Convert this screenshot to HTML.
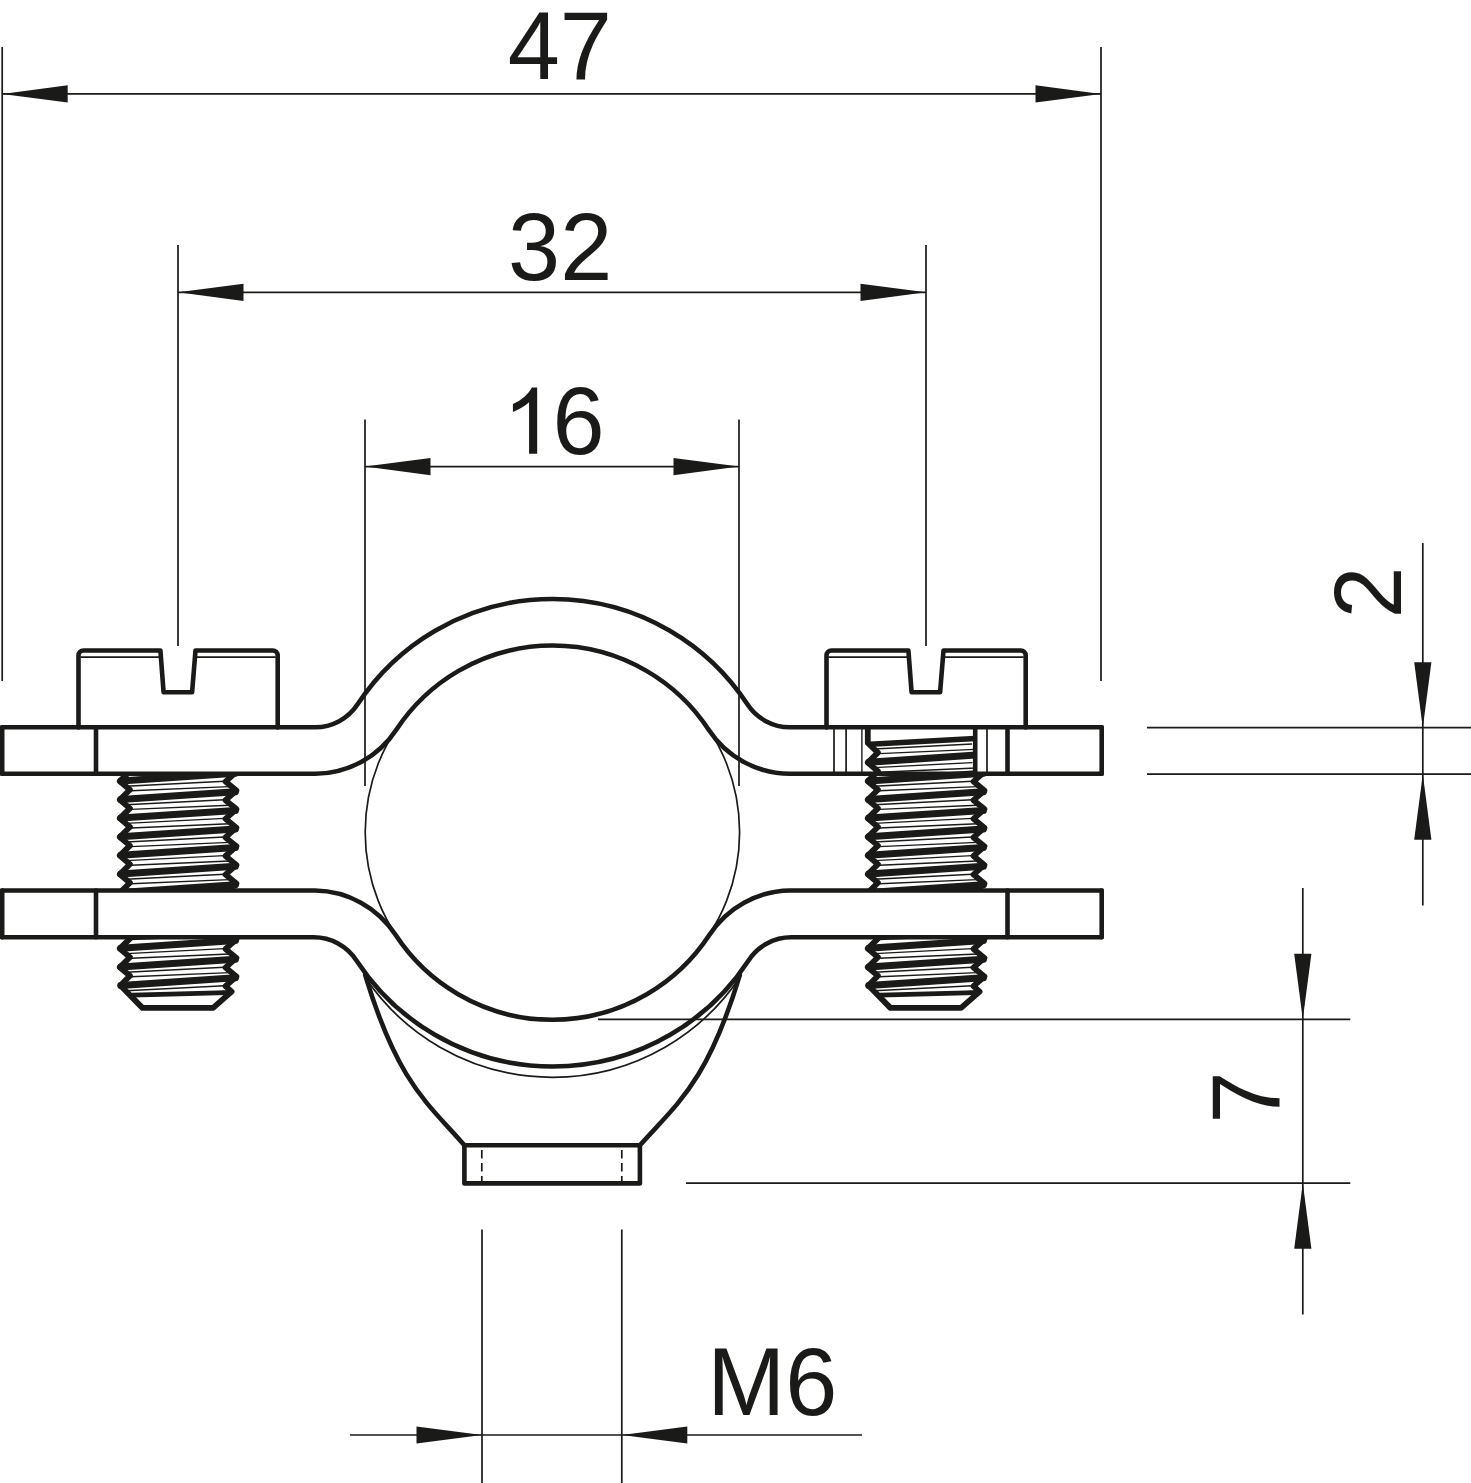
<!DOCTYPE html>
<html><head><meta charset="utf-8"><title>Drawing</title>
<style>
html,body{margin:0;padding:0;background:#fff;}
body{width:1471px;height:1483px;overflow:hidden;}
svg{display:block;}
text{font-family:"Liberation Sans",sans-serif;fill:#1a1a18;}
.h{fill:none;stroke:#1a1a18;stroke-width:4.6;stroke-linejoin:round;stroke-linecap:round;}
.hw{fill:#fff;stroke:#1a1a18;stroke-width:4.6;stroke-linejoin:round;stroke-linecap:round;}
.t{fill:none;stroke:#1a1a18;stroke-width:1.7;}
.t2{fill:none;stroke:#1a1a18;stroke-width:1.4;}
.a{fill:#1a1a18;stroke:none;}
</style></head><body>
<svg width="1471" height="1483" viewBox="0 0 1471 1483">
<rect width="1471" height="1483" fill="#fff"/>

<g class="t">
<path d="M2.2,47V681 M1101,47V681 M2.2,93.9H1101"/>
<path d="M178,245V646 M926,245V646 M178,292.3H926"/>
<path d="M365,419.5V786 M739,419.5V786 M365,466.6H739"/>
<path d="M1422.8,543V905.5 M1147,727.7H1471 M1147,774.2H1471"/>
<path d="M1302.8,888V1314.5 M598,1019.3H1350.3 M686,1183.2H1350.3"/>
<path d="M482,1229.5V1483 M621.8,1229.5V1483 M350,1435H862"/>
</g>
<g class="a">
<polygon points="2.2,93.9 67.7,102.5 67.7,85.3"/>
<polygon points="1101.0,93.9 1035.5,85.3 1035.5,102.5"/>
<polygon points="178.0,292.3 243.5,300.9 243.5,283.7"/>
<polygon points="926.0,292.3 860.5,283.7 860.5,300.9"/>
<polygon points="365.0,466.6 430.5,475.2 430.5,458.0"/>
<polygon points="739.0,466.6 673.5,458.0 673.5,475.2"/>
<polygon points="1422.8,727.7 1431.4,662.2 1414.2,662.2"/>
<polygon points="1422.8,774.2 1414.2,839.7 1431.4,839.7"/>
<polygon points="1302.8,1019.3 1311.4,953.8 1294.2,953.8"/>
<polygon points="1302.8,1183.2 1294.2,1248.7 1311.4,1248.7"/>
<polygon points="482.0,1435.0 416.5,1426.4 416.5,1443.6"/>
<polygon points="621.8,1435.0 687.3,1443.6 687.3,1426.4"/>
</g>
<text transform="translate(507.65,79) scale(1.018,1.04)" font-size="92">47</text>
<text transform="translate(508.1,279.6) scale(1.018,1.04)" font-size="92">32</text>
<text transform="translate(552.6,453.7) scale(1.018,1.04)" font-size="92">6</text>
<path fill="#1a1a18" transform="translate(502.9,453.7) scale(0.044922,-0.044922)" d="M763,0H583V1147Q518,1085 412.5,1023Q307,961 223,930V1104Q374,1175 487,1276Q600,1377 647,1472H763Z"/>
<text transform="translate(707.3,1415) scale(1.018,1.04)" font-size="92">M6</text>
<text transform="translate(1400.8,618.4) rotate(-90) scale(1.018,1.04)" font-size="92">2</text>
<text transform="translate(1279,1123.6) rotate(-90) scale(1.018,1.04)" font-size="92">7</text>
<circle class="t" cx="552.4" cy="832.2" r="187.2"/>
<clipPath id="c1"><rect x="108.1" y="774" width="140" height="116"/></clipPath>
<g clip-path="url(#c1)">
<polygon points="119.8,762.6 129.9,771.2 119.8,781.2 129.9,789.8 119.8,799.8 129.9,808.4 119.8,818.4 129.9,827.0 119.8,837.0 129.9,845.6 119.8,855.6 129.9,864.2 119.8,874.2 129.9,882.8 119.8,892.8 129.9,901.4 236.4,902.1 225.5,893.2 236.4,883.5 225.5,874.6 236.4,864.9 225.5,856.0 236.4,846.3 225.5,837.4 236.4,827.7 225.5,818.8 236.4,809.1 225.5,800.2 236.4,790.5 225.5,781.6 236.4,771.9 225.5,763.0" fill="#fff" stroke="#1a1a18" stroke-width="5.8" stroke-linejoin="round"/>
<line x1="120.8" y1="762.3" x2="235.4" y2="754.6" stroke="#1a1a18" stroke-width="7" stroke-linecap="round"/>
<line class="t2" x1="126.1" y1="767.6" x2="224.5" y2="762.6"/>
<line class="t2" x1="130.9" y1="772.2" x2="229.6" y2="768.0"/>
<line x1="120.8" y1="780.9" x2="235.4" y2="773.2" stroke="#1a1a18" stroke-width="7" stroke-linecap="round"/>
<line class="t2" x1="126.1" y1="786.2" x2="224.5" y2="781.2"/>
<line class="t2" x1="130.9" y1="790.8" x2="229.6" y2="786.6"/>
<line x1="120.8" y1="799.5" x2="235.4" y2="791.8" stroke="#1a1a18" stroke-width="7" stroke-linecap="round"/>
<line class="t2" x1="126.1" y1="804.8" x2="224.5" y2="799.8"/>
<line class="t2" x1="130.9" y1="809.4" x2="229.6" y2="805.2"/>
<line x1="120.8" y1="818.1" x2="235.4" y2="810.4" stroke="#1a1a18" stroke-width="7" stroke-linecap="round"/>
<line class="t2" x1="126.1" y1="823.4" x2="224.5" y2="818.4"/>
<line class="t2" x1="130.9" y1="828.0" x2="229.6" y2="823.8"/>
<line x1="120.8" y1="836.7" x2="235.4" y2="829.0" stroke="#1a1a18" stroke-width="7" stroke-linecap="round"/>
<line class="t2" x1="126.1" y1="842.0" x2="224.5" y2="837.0"/>
<line class="t2" x1="130.9" y1="846.6" x2="229.6" y2="842.4"/>
<line x1="120.8" y1="855.3" x2="235.4" y2="847.6" stroke="#1a1a18" stroke-width="7" stroke-linecap="round"/>
<line class="t2" x1="126.1" y1="860.6" x2="224.5" y2="855.6"/>
<line class="t2" x1="130.9" y1="865.2" x2="229.6" y2="861.0"/>
<line x1="120.8" y1="873.9" x2="235.4" y2="866.2" stroke="#1a1a18" stroke-width="7" stroke-linecap="round"/>
<line class="t2" x1="126.1" y1="879.2" x2="224.5" y2="874.2"/>
<line class="t2" x1="130.9" y1="883.8" x2="229.6" y2="879.6"/>
<line x1="120.8" y1="892.5" x2="235.4" y2="884.8" stroke="#1a1a18" stroke-width="7" stroke-linecap="round"/>
<line class="t2" x1="126.1" y1="897.8" x2="224.5" y2="892.8"/>
<line class="t2" x1="130.9" y1="902.4" x2="229.6" y2="898.2"/>
</g>
<clipPath id="c2"><rect x="108.1" y="937" width="140" height="90"/></clipPath>
<g clip-path="url(#c2)">
<polygon points="119.8,930.0 129.9,938.6 119.8,948.6 129.9,957.2 119.8,967.2 129.9,975.8 120.5,985.5 142.4,1007.9 213.1,1007.9 231.6,991.6 225.5,986.2 236.4,976.5 225.5,967.6 236.4,957.9 225.5,949.0 236.4,939.3 225.5,930.4" fill="#fff" stroke="#1a1a18" stroke-width="5.8" stroke-linejoin="round"/>
<line x1="120.8" y1="929.7" x2="235.4" y2="922.0" stroke="#1a1a18" stroke-width="7" stroke-linecap="round"/>
<line class="t2" x1="126.1" y1="935.0" x2="224.5" y2="930.0"/>
<line class="t2" x1="130.9" y1="939.6" x2="229.6" y2="935.4"/>
<line x1="120.8" y1="948.3" x2="235.4" y2="940.6" stroke="#1a1a18" stroke-width="7" stroke-linecap="round"/>
<line class="t2" x1="126.1" y1="953.6" x2="224.5" y2="948.6"/>
<line class="t2" x1="130.9" y1="958.2" x2="229.6" y2="954.0"/>
<line x1="120.8" y1="966.9" x2="235.4" y2="959.2" stroke="#1a1a18" stroke-width="7" stroke-linecap="round"/>
<line class="t2" x1="126.1" y1="972.2" x2="224.5" y2="967.2"/>
<line class="t2" x1="130.9" y1="976.8" x2="229.6" y2="972.6"/>
<line x1="120.8" y1="985.5" x2="235.4" y2="977.8" stroke="#1a1a18" stroke-width="7" stroke-linecap="round"/>
<line class="t2" x1="126.1" y1="990.8" x2="224.5" y2="985.8"/>
<line class="t2" x1="130.9" y1="995.4" x2="229.6" y2="991.2"/>
<line x1="132.1" y1="995.2" x2="227.1" y2="992.6" stroke="#1a1a18" stroke-width="4.8" stroke-linecap="round"/>
</g>
<clipPath id="c4"><rect x="856.1" y="937" width="140" height="90"/></clipPath>
<g clip-path="url(#c4)">
<polygon points="867.8,930.0 877.9,938.6 867.8,948.6 877.9,957.2 867.8,967.2 877.9,975.8 868.5,985.5 890.4,1007.9 961.1,1007.9 979.6,991.6 973.5,986.2 984.4,976.5 973.5,967.6 984.4,957.9 973.5,949.0 984.4,939.3 973.5,930.4" fill="#fff" stroke="#1a1a18" stroke-width="5.8" stroke-linejoin="round"/>
<line x1="868.8" y1="929.7" x2="983.4" y2="922.0" stroke="#1a1a18" stroke-width="7" stroke-linecap="round"/>
<line class="t2" x1="874.1" y1="935.0" x2="972.5" y2="930.0"/>
<line class="t2" x1="878.9" y1="939.6" x2="977.6" y2="935.4"/>
<line x1="868.8" y1="948.3" x2="983.4" y2="940.6" stroke="#1a1a18" stroke-width="7" stroke-linecap="round"/>
<line class="t2" x1="874.1" y1="953.6" x2="972.5" y2="948.6"/>
<line class="t2" x1="878.9" y1="958.2" x2="977.6" y2="954.0"/>
<line x1="868.8" y1="966.9" x2="983.4" y2="959.2" stroke="#1a1a18" stroke-width="7" stroke-linecap="round"/>
<line class="t2" x1="874.1" y1="972.2" x2="972.5" y2="967.2"/>
<line class="t2" x1="878.9" y1="976.8" x2="977.6" y2="972.6"/>
<line x1="868.8" y1="985.5" x2="983.4" y2="977.8" stroke="#1a1a18" stroke-width="7" stroke-linecap="round"/>
<line class="t2" x1="874.1" y1="990.8" x2="972.5" y2="985.8"/>
<line class="t2" x1="878.9" y1="995.4" x2="977.6" y2="991.2"/>
<line x1="880.1" y1="995.2" x2="975.1" y2="992.6" stroke="#1a1a18" stroke-width="4.8" stroke-linecap="round"/>
</g>
<clipPath id="c3"><rect x="856.1" y="774" width="140" height="116"/></clipPath>
<g clip-path="url(#c3)">
<polygon points="867.8,762.6 877.9,771.2 867.8,781.2 877.9,789.8 867.8,799.8 877.9,808.4 867.8,818.4 877.9,827.0 867.8,837.0 877.9,845.6 867.8,855.6 877.9,864.2 867.8,874.2 877.9,882.8 867.8,892.8 877.9,901.4 984.4,902.1 973.5,893.2 984.4,883.5 973.5,874.6 984.4,864.9 973.5,856.0 984.4,846.3 973.5,837.4 984.4,827.7 973.5,818.8 984.4,809.1 973.5,800.2 984.4,790.5 973.5,781.6 984.4,771.9 973.5,763.0" fill="#fff" stroke="#1a1a18" stroke-width="5.8" stroke-linejoin="round"/>
<line x1="868.8" y1="762.3" x2="983.4" y2="754.6" stroke="#1a1a18" stroke-width="7" stroke-linecap="round"/>
<line class="t2" x1="874.1" y1="767.6" x2="972.5" y2="762.6"/>
<line class="t2" x1="878.9" y1="772.2" x2="977.6" y2="768.0"/>
<line x1="868.8" y1="780.9" x2="983.4" y2="773.2" stroke="#1a1a18" stroke-width="7" stroke-linecap="round"/>
<line class="t2" x1="874.1" y1="786.2" x2="972.5" y2="781.2"/>
<line class="t2" x1="878.9" y1="790.8" x2="977.6" y2="786.6"/>
<line x1="868.8" y1="799.5" x2="983.4" y2="791.8" stroke="#1a1a18" stroke-width="7" stroke-linecap="round"/>
<line class="t2" x1="874.1" y1="804.8" x2="972.5" y2="799.8"/>
<line class="t2" x1="878.9" y1="809.4" x2="977.6" y2="805.2"/>
<line x1="868.8" y1="818.1" x2="983.4" y2="810.4" stroke="#1a1a18" stroke-width="7" stroke-linecap="round"/>
<line class="t2" x1="874.1" y1="823.4" x2="972.5" y2="818.4"/>
<line class="t2" x1="878.9" y1="828.0" x2="977.6" y2="823.8"/>
<line x1="868.8" y1="836.7" x2="983.4" y2="829.0" stroke="#1a1a18" stroke-width="7" stroke-linecap="round"/>
<line class="t2" x1="874.1" y1="842.0" x2="972.5" y2="837.0"/>
<line class="t2" x1="878.9" y1="846.6" x2="977.6" y2="842.4"/>
<line x1="868.8" y1="855.3" x2="983.4" y2="847.6" stroke="#1a1a18" stroke-width="7" stroke-linecap="round"/>
<line class="t2" x1="874.1" y1="860.6" x2="972.5" y2="855.6"/>
<line class="t2" x1="878.9" y1="865.2" x2="977.6" y2="861.0"/>
<line x1="868.8" y1="873.9" x2="983.4" y2="866.2" stroke="#1a1a18" stroke-width="7" stroke-linecap="round"/>
<line class="t2" x1="874.1" y1="879.2" x2="972.5" y2="874.2"/>
<line class="t2" x1="878.9" y1="883.8" x2="977.6" y2="879.6"/>
<line x1="868.8" y1="892.5" x2="983.4" y2="884.8" stroke="#1a1a18" stroke-width="7" stroke-linecap="round"/>
<line class="t2" x1="874.1" y1="897.8" x2="972.5" y2="892.8"/>
<line class="t2" x1="878.9" y1="902.4" x2="977.6" y2="898.2"/>
</g>
<clipPath id="c5"><rect x="856.1" y="727.4" width="119" height="47"/></clipPath>
<g clip-path="url(#c5)">
<polyline points="867.8,727.4 867.8,743.0 877.9,752.6 867.8,762.6 877.9,771.2 867.8,781.2 877.9,789.8" fill="none" stroke="#1a1a18" stroke-width="5.8" stroke-linejoin="round"/>
<line x1="868.8" y1="762.3" x2="983.4" y2="754.6" stroke="#1a1a18" stroke-width="7" stroke-linecap="round"/>
<line class="t2" x1="874.1" y1="767.6" x2="972.5" y2="762.6"/>
<line class="t2" x1="878.9" y1="772.2" x2="977.6" y2="768.0"/>
<line x1="868.8" y1="780.9" x2="983.4" y2="773.2" stroke="#1a1a18" stroke-width="7" stroke-linecap="round"/>
<line class="t2" x1="874.1" y1="786.2" x2="972.5" y2="781.2"/>
<line class="t2" x1="878.9" y1="790.8" x2="977.6" y2="786.6"/>
<line x1="870.1" y1="744.3" x2="975.1" y2="738.5" stroke="#1a1a18" stroke-width="5.5" stroke-linecap="round"/>
<line class="t2" x1="874.1" y1="749.0" x2="972.1" y2="744.0"/>
<line class="t2" x1="879.1" y1="753.6" x2="975.1" y2="749.4"/>
</g>
<path class="t" d="M834,727.4V774 M846.1,727.4V774 M987,727.4V774"/>
<path class="t2" d="M861.9,727.4V774"/>
<path class="h" d="M975.2,727.4V776"/>
<path class="h" d="M2.2,727.3H315A51,51 0 0 0 357.6,704.3A233,233 0 0 1 747.4,704.3A51,51 0 0 0 790,727.3H1101.7"/><path class="h" d="M2.2,773.8H315A97.5,97.5 0 0 0 396.3,729.8A186.9,186.9 0 0 1 708.7,729.8A97.5,97.5 0 0 0 790,773.8H1101.7"/>
<path class="h" d="M2.2,890.5H315A97.6,97.6 0 0 1 395.7,935.1A187.5,187.5 0 0 0 709.3,935.1A97.6,97.6 0 0 1 790,890.5H1101.7"/><path class="h" d="M2.2,937.3H313.75A51,51 0 0 1 356.44,960.4A234.2,234.2 0 0 0 748.56,960.4A51,51 0 0 1 791.25,937.3H1101.7"/>
<path class="h" d="M2.2,727.3V773.8 M96,727.3V773.8 M1101.7,727.3V773.8 M1007.5,727.3V773.8"/>
<path class="h" d="M2.2,890.5V937.3 M96,890.5V937.3 M1101.7,890.5V937.3 M1007.5,890.5V937.3"/>
<path class="h" d="M78.5,727.4V655.5a5,5 0 0 1 5,-5H160.4L163.6,692.2H192.1L195.5,650.5H272.7a5,5 0 0 1 5,5V727.4"/><path class="t" d="M80.5,657.1H161.1 M195.1,657.1H275.7"/>
<path class="h" d="M826.5,727.4V655.5a5,5 0 0 1 5,-5H908.4L911.6,692.2H940.1L943.5,650.5H1020.7a5,5 0 0 1 5,5V727.4"/><path class="t" d="M828.5,657.1H909.1 M943.1,657.1H1023.7"/>
<path class="h" d="M365.2,975L365.5,976C398,1083.1 427.8,1103.3 464.4,1145.3"/>
<path class="h" d="M739.8,975L739.5,976C707,1083.1 677.2,1103.3 639.9,1145.3"/>
<path class="t" d="M365,977A225.4,225.4 0 0 0 740,977"/>
<rect class="h" x="464.4" y="1145.3" width="175.5" height="38.1"/>
<path class="t" stroke-dasharray="8.5 4.5" d="M481.8,1150V1181 M621.8,1150V1181"/>
</svg></body></html>
